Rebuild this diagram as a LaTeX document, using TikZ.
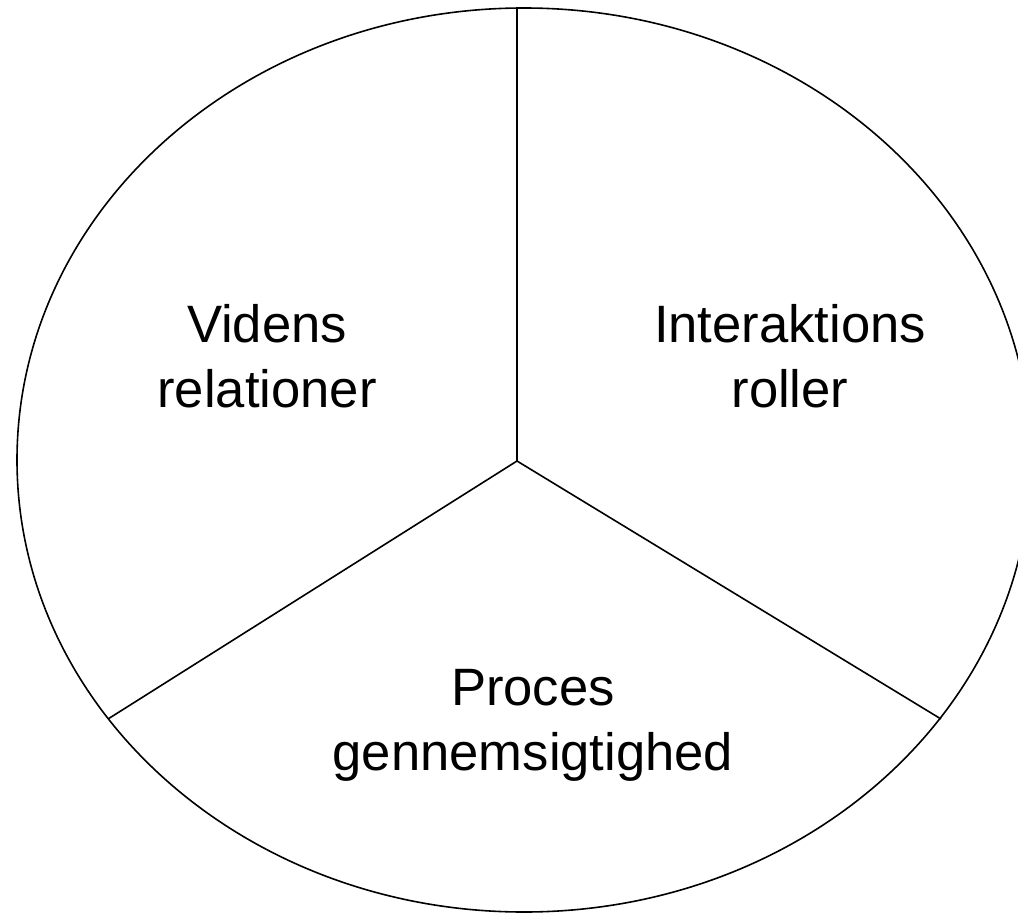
\documentclass[tikz,border=0pt]{standalone}
\usepackage{fontspec}
\setmainfont{Liberation Sans}
\usetikzlibrary{calc}

\begin{document}
\begin{tikzpicture}[x = 1pt, y = -1pt,
rim/.style = {line width = 1.6pt},
spoke/.style = {line width = 1.6pt},
part/.style = {align = center, inner sep = 0pt, font = \fontsize{52.6}{65}\selectfont}
]

% hele billedet, cirklen skaeres af til hoejre
\useasboundingbox (0,0) rectangle (1018,913);

\draw[rim] (524,460) ellipse [x radius = 507pt, y radius = 452pt];

%midtpunkt og de tre ender paa kanten
\coordinate (M) at (517,461);
\coordinate (top) at (517,7);
\coordinate (venstre) at (108,719);
\coordinate (hoejre) at (941,719);
\foreach \e in {top, venstre, hoejre}{
	\draw[spoke] (M) -- (\e);
}

\node[part] (viden) at (267,356) {Videns\\relationer};
\node[part] (interaktion) at (790,356) {Interaktions\\roller};
\node[part] (proces) at (533,725) {Proces\\gennemsigtighed};
\end{tikzpicture}
\end{document}
